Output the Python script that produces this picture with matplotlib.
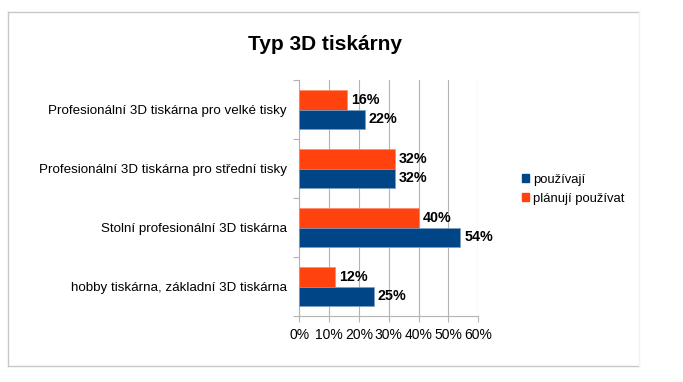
import numpy as np
import matplotlib
matplotlib.use('Agg')
import matplotlib.pyplot as plt
from matplotlib.lines import Line2D
from matplotlib.patches import Patch

plt.rcParams['font.family'] = ['Liberation Sans', 'DejaVu Sans']

# data
categories = ['Profesionální 3D tiskárna pro velké tisky',
              'Profesionální 3D tiskárna pro střední tisky',
              'Stolní profesionální 3D tiskárna',
              'hobby tiskárna, základní 3D tiskárna']
pouzivaji = [22, 32, 54, 25]
planuji = [16, 32, 40, 12]
series_names = ['používají', 'plánují používat']
x_ticks = [0, 10, 20, 30, 40, 50, 60]

blue = '#004586'
orange = '#ff420e'
grid_col = '#b3b3b3'

W, H = 683, 382
fig = plt.figure(figsize=(W / 100, H / 100), dpi=100)
ax = fig.add_axes([299.3 / W, 1 - 316 / H, 179 / W, 236 / H])

y = np.arange(len(categories))
h = 0.327
ax.barh(y - h / 2, planuji, height=h, color=orange, edgecolor='#ff8a66', linewidth=0.5, zorder=3)
ax.barh(y + h / 2, pouzivaji, height=h, color=blue, edgecolor='#7f9fc2', linewidth=0.5, zorder=3)

# value labels
for yi, v in zip(y, planuji):
    ax.annotate(f'{v}%', (v, yi - h / 2), xytext=(4, 0), textcoords='offset pixels',
                va='center', ha='left', fontsize=10.3, fontweight='bold', color='black')
for yi, v in zip(y, pouzivaji):
    ax.annotate(f'{v}%', (v, yi + h / 2), xytext=(4, 0), textcoords='offset pixels',
                va='center', ha='left', fontsize=10.3, fontweight='bold', color='black')

ax.set_xlim(0, 60)
ax.set_ylim(3.5, -0.5)
ax.set_xticks(x_ticks)
ax.set_xticklabels([f'{t}%' for t in x_ticks], fontsize=10)
ax.set_yticks(y)
ax.set_yticklabels(categories, fontsize=9.6)
ax.set_yticks(np.arange(-0.5, 4.0, 1.0), minor=True)

ax.tick_params(axis='y', which='major', length=0, pad=9)
ax.tick_params(axis='y', which='minor', length=4.3, color=grid_col, width=0.8)
ax.tick_params(axis='x', length=4.3, color=grid_col, width=0.8, pad=4)

ax.grid(axis='x', color=grid_col, linewidth=0.8, zorder=0)
for side in ['top', 'right']:
    ax.spines[side].set_visible(False)
for side in ['left', 'bottom']:
    ax.spines[side].set_color(grid_col)
    ax.spines[side].set_linewidth(0.8)

# title
fig.text(325 / W, 1 - 45 / H, 'Typ 3D tiskárny', ha='center', va='center',
         fontsize=15, fontweight='bold')

# legend
handles = [Patch(color=blue), Patch(color=orange)]
fig.legend(handles, series_names, loc='upper left', bbox_to_anchor=(515 / W, 1 - 167 / H),
           frameon=False, fontsize=9.4, handlelength=0.6, handleheight=0.6,
           handletextpad=0.3, labelspacing=0.55, borderpad=0)

# chart border
bc = '#c8c8c8'
x0, x1 = 8 / W, 639 / W
y0, y1 = 1 - 366 / H, 1 - 12 / H
fig.add_artist(Line2D([x0, x1], [y1, y1], color=bc, lw=1))
fig.add_artist(Line2D([x0, x0], [y0, y1], color=bc, lw=1))
fig.add_artist(Line2D([x0, x1], [y0, y0], color=bc, lw=1))
fig.add_artist(Line2D([x1, x1], [y0, y1], color='#f2f2f2', lw=1))

fig.savefig('out.png', dpi=100)
